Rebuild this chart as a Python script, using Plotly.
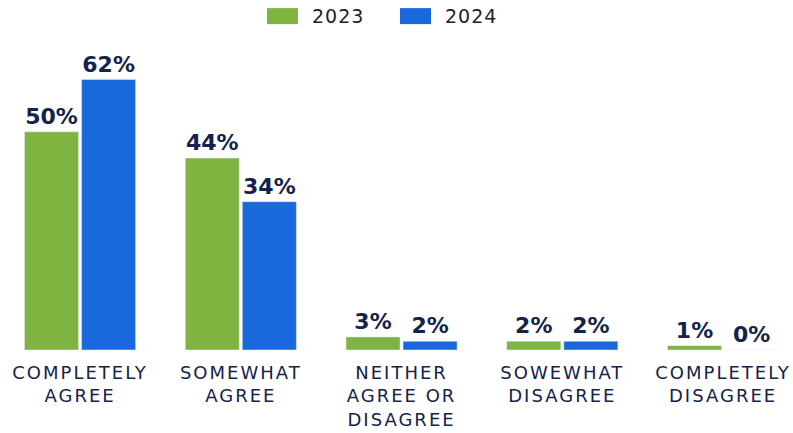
import plotly.graph_objects as go

categories = [
    "COMPLETELY<br>AGREE",
    "SOMEWHAT<br>AGREE",
    "NEITHER<br>AGREE OR<br>DISAGREE",
    "SOWEWHAT<br>DISAGREE",
    "COMPLETELY<br>DISAGREE",
]
series_names = ["2023", "2024"]
values_2023 = [50, 44, 3, 2, 1]
values_2024 = [62, 34, 2, 2, 0]

GREEN = "#80b441"
BLUE = "#1a69dc"
NAVY = "#13234a"

x_idx = list(range(len(categories)))

fig = go.Figure()
for name, vals, color in zip(series_names, [values_2023, values_2024], [GREEN, BLUE]):
    fig.add_trace(go.Bar(
        x=x_idx, y=vals, name=name, marker_color=color,
        text=[f"<b>{v}%</b>" for v in vals],
        textposition="outside",
        textfont=dict(family="DejaVu Sans", size=22, color=NAVY),
        cliponaxis=False,
        showlegend=False,
    ))

# custom legend: wide colour swatches with labels, centred above the plot
W = 793
swatch_x = [267, 400]
for name, color, sx in zip(series_names, [GREEN, BLUE], swatch_x):
    fig.add_shape(type="rect", xref="paper", yref="paper",
                  x0=sx / W, x1=(sx + 31) / W, y0=1.058, y1=1.110,
                  fillcolor=color, line_width=0)
    fig.add_annotation(xref="paper", yref="paper", x=(sx + 45) / W, y=1.084,
                       text=name, showarrow=False, xanchor="left", yanchor="middle",
                       font=dict(family="DejaVu Sans", size=19, color="#222222"))

fig.update_layout(
    width=793, height=433,
    margin=dict(l=0, r=0, t=42, b=83, autoexpand=False),
    paper_bgcolor="white", plot_bgcolor="white",
    barmode="group", bargap=0.29, bargroupgap=0.053,
    showlegend=False,
    xaxis=dict(
        tickmode="array", tickvals=x_idx, ticktext=categories,
        range=[-0.498, 4.435], showgrid=False, zeroline=False, showline=False,
        ticks="", ticklabelstandoff=10,
        tickfont=dict(family="DejaVu Sans", size=18, color=NAVY),
    ),
    yaxis=dict(range=[0, 70.6], visible=False),
)

# widen the letter spacing of the category and legend labels
spacing_js = """
var gd = document.getElementById('{plot_id}');
function spaceOut() {
  gd.querySelectorAll('.xtick text').forEach(function (t) {
    t.style.letterSpacing = '2px';
  });
  gd.querySelectorAll('.annotation-text').forEach(function (t) {
    t.style.letterSpacing = '1px';
  });
}
spaceOut();
gd.on('plotly_afterplot', spaceOut);
"""

fig.write_html("out.html", post_script=spacing_js)
